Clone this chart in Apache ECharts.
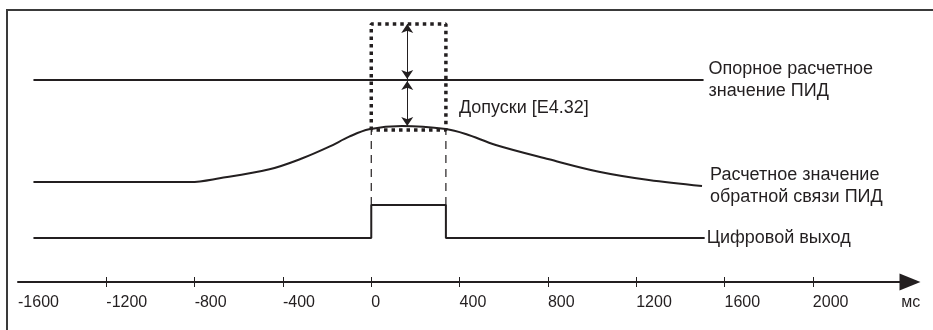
<!DOCTYPE html>
<html>
<head>
<meta charset="utf-8">
<script src="https://cdn.jsdelivr.net/npm/echarts@6/dist/echarts.min.js"></script>
<style>
  html, body { margin: 0; padding: 0; background: #fff; }
  #main { width: 933px; height: 330px; }
</style>
</head>
<body>
<div id="main"></div>
<script>
// time axis, ms
var tickValues = [-1200, -800, -400, 0, 400, 800, 1200, 1600, 2000, 2400];
var labelValues = [-1600, -1200, -800, -400, 0, 400, 800, 1200, 1600, 2000, 2400];
var unitLabel = 'мс';

// schematic levels (arbitrary units, axis = 0)
var refLine = [[-1530, 202], [1505, 202]];
var feedback = [[-1530, 100], [-820, 100], [-687, 103.7], [-461, 112.7], [-312, 123.7], [-190, 135.3],
  [-100, 145.3], [-10, 152.7], [140, 156], [338, 153], [428, 148], [564, 137], [805, 122.7],
  [1031, 110.3], [1257, 102], [1498, 96]];
var digital = [[-1530, 44], [0, 44], [0, 77], [338, 77], [338, 44], [1510, 44]];
var tolBox = [[0, 152], [0, 258], [338, 258], [338, 152], [0, 152]];
var dashL = [[0, 77], [0, 152]];
var dashR = [[338, 77], [338, 152]];
var arrowX = 163;
var tolLabelAt = [338, 174];

var ink = '#231f20';
var font = '"Liberation Sans", Arial, sans-serif';

var dom = document.getElementById('main');
var myChart = echarts.init(dom);
var option = null;
option = {
  animation: false,
  backgroundColor: '#fff',
  textStyle: { fontFamily: font, color: ink },
  grid: { left: 18, right: 23, top: 22, bottom: 48 },
  xAxis: [{
    type: 'value',
    min: -1600,
    max: 2440,
    splitLine: { show: false },
    axisLine: {
      show: true,
      lineStyle: { color: ink, width: 2 },
      symbol: ['none', 'triangle'],
      symbolSize: [17, 21]
    },
    axisTick: { show: true, inside: false, length: 5, customValues: tickValues, lineStyle: { color: ink, width: 1 } },
    axisLabel: {
      customValues: labelValues,
      align: 'left',
      margin: 13,
      fontSize: 16,
      fontFamily: font,
      color: ink,
      formatter: function (v) {
        if (v == 2400) return unitLabel;
        return v + '';
      }
    }
  }, {
    // upper half of the ticks
    type: 'value',
    min: -1600,
    max: 2440,
    position: 'bottom',
    splitLine: { show: false },
    axisLine: { show: false },
    axisTick: { show: true, inside: true, length: 5, customValues: tickValues, lineStyle: { color: ink, width: 1 } },
    axisLabel: { show: false }
  }],
  yAxis: { type: 'value', min: 0, max: 260, show: false },
  series: [
    {
      name: 'ref',
      type: 'line',
      data: refLine,
      symbol: 'none',
      lineStyle: { color: ink, width: 2 },
      endLabel: {
        show: true,
        formatter: 'Опорное расчетное\nзначение ПИД',
        distance: 5,
        fontSize: 18,
        lineHeight: 22,
        fontFamily: font,
        color: ink
      }
    },
    {
      name: 'feedback',
      type: 'line',
      data: feedback,
      symbol: 'none',
      smooth: 0.35,
      lineStyle: { color: ink, width: 2 },
      endLabel: {
        show: true,
        formatter: 'Расчетное значение\nобратной связи ПИД',
        distance: 8,
        fontSize: 18,
        lineHeight: 22,
        fontFamily: font,
        color: ink
      }
    },
    {
      name: 'digital',
      type: 'line',
      data: digital,
      symbol: 'none',
      lineStyle: { color: ink, width: 2 },
      endLabel: {
        show: true,
        formatter: 'Цифровой выход',
        distance: 2,
        fontSize: 18,
        fontFamily: font,
        color: ink
      }
    },
    {
      name: 'dashL',
      type: 'line',
      data: dashL,
      symbol: 'none',
      lineStyle: { color: ink, width: 1.2, type: [8, 6] }
    },
    {
      name: 'dashR',
      type: 'line',
      data: dashR,
      symbol: 'none',
      lineStyle: { color: ink, width: 1.2, type: [8, 6] }
    },
    {
      name: 'tol',
      type: 'line',
      data: tolBox,
      symbol: 'none',
      z: 3,
      lineStyle: { color: ink, width: 3.5, type: [3.5, 4], cap: 'butt' },
      markPoint: {
        symbol: 'circle',
        symbolSize: 0,
        data: [{ coord: tolLabelAt }],
        label: {
          show: true,
          position: 'right',
          distance: 13,
          formatter: 'Допуски [E4.32]',
          fontSize: 18,
          fontFamily: font,
          color: ink
        }
      },
      markLine: {
        silent: true,
        symbol: ['arrow', 'arrow'],
        symbolSize: 9,
        label: { show: false },
        lineStyle: { color: ink, width: 1, type: 'solid' },
        data: [
          [{ coord: [arrowX, 258] }, { coord: [arrowX, 203] }],
          [{ coord: [arrowX, 201] }, { coord: [arrowX, 156] }]
        ]
      }
    }
  ],
  graphic: [{
    // picture frame
    type: 'polyline',
    silent: true,
    shape: { points: [[7, 330], [7, 10], [933, 10]] },
    style: { stroke: '#3a3a3a', lineWidth: 2, fill: null }
  }]
};
myChart.setOption(option, true);
</script>
</body>
</html>
